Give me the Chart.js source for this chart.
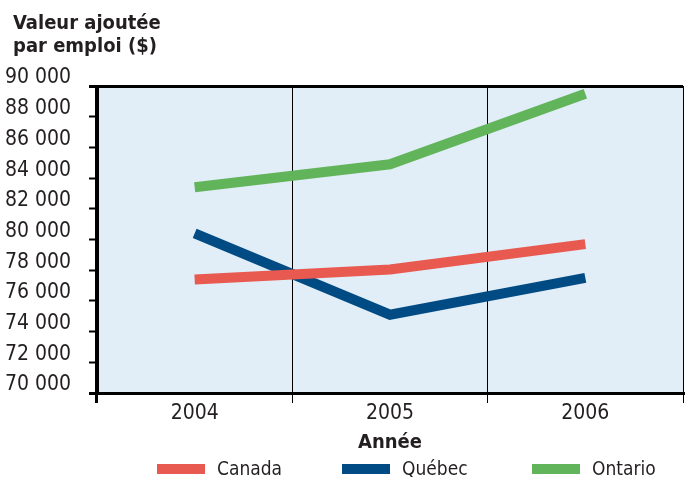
<!DOCTYPE html>
<html lang="fr">
<head>
<meta charset="utf-8">
<script src="https://cdn.jsdelivr.net/npm/chart.js@4/dist/chart.umd.min.js"></script>
<style>
  html, body { margin: 0; padding: 0; background: #ffffff; }
  #wrap { position: relative; width: 686px; height: 477px; }
  #c { display: block; }
  .lg-item { position: absolute; top: 456px; height: 24px; display: flex; align-items: center;
    font-family: "DejaVu Sans Condensed", "Liberation Sans", sans-serif; font-size: 19px; color: #231f20; white-space: nowrap; }
  .lg-box { display: inline-block; width: 48px; height: 10px; margin-right: 12px; margin-top: 2px; }
</style>
</head>
<body>
<div id="wrap">
  <canvas id="c" width="686" height="477"></canvas>
  <div id="legend"></div>
</div>
<script>
// ---- data ----
const years = ['2004', '2005', '2006'];
const canada = [77400, 78050, 79700];
const quebec = [80400, 75100, 77500];
const ontario = [83400, 84900, 89500];
const seriesNames = ['Canada', 'Québec', 'Ontario'];
const yTitleLines = ['Valeur ajoutée', 'par emploi ($)'];
const xTitle = 'Année';
const yMin = 70000, yMax = 90000, yStep = 2000;

// ---- style ----
const colors = ['#e8594f', '#004b84', '#62b45a'];
const legendLeft = [157, 342, 532];
const FONT = '"DejaVu Sans Condensed", "Liberation Sans", sans-serif';
const TEXT = '#231f20';
const TITLE_INDENT = 13;

const fmt = v => String(v).replace(/\B(?=(\d{3})+(?!\d))/g, ' ');

const bgPlugin = {
  id: 'plotBg',
  afterLayout(chart) {
    if (chart.titleBlock) {
      chart.titleBlock.left = TITLE_INDENT;
    }
  },
  beforeDraw(chart) {
    const a = chart.chartArea, ctx = chart.ctx;
    ctx.save();
    ctx.fillStyle = '#e1edf7';
    ctx.fillRect(a.left, a.top, a.right - a.left, a.bottom - a.top);
    ctx.restore();
  }
};

const seriesData = [canada, quebec, ontario];
const chart = new Chart(document.getElementById('c'), {
  type: 'line',
  data: {
    labels: years,
    datasets: seriesNames.map((n, i) => ({
      label: n,
      data: seriesData[i],
      borderColor: colors[i],
      backgroundColor: colors[i],
      borderWidth: 10,
      borderCapStyle: 'butt',
      borderJoinStyle: 'miter',
      pointRadius: 0,
      tension: 0,
      fill: false
    }))
  },
  options: {
    responsive: false,
    animation: false,
    devicePixelRatio: 1,
    layout: { padding: { left: 0, right: 3, top: 0, bottom: 24.5 } },
    plugins: {
      legend: { display: false },
      tooltip: { enabled: false },
      title: {
        display: true,
        text: yTitleLines,
        align: 'start',
        color: TEXT,
        font: { family: FONT, size: 20, weight: 'bold', lineHeight: '23px' },
        padding: { top: 12.5, bottom: 27.5 }
      }
    },
    scales: {
      x: {
        type: 'category',
        offset: true,
        grid: {
          offset: true,
          color: '#000000',
          lineWidth: c => (c.index === 0 || c.index === years.length) ? 3 : 1,
          tickLength: 10,
          drawTicks: true
        },
        border: { display: true, color: '#000000', width: 3 },
        ticks: {
          color: TEXT,
          padding: 0,
          font: { family: FONT, size: 21, lineHeight: 1.0 }
        },
        title: {
          display: true,
          text: xTitle,
          color: TEXT,
          font: { family: FONT, size: 20, weight: 'bold', lineHeight: 1.0 },
          padding: { top: 8.5, bottom: 0 }
        }
      },
      y: {
        min: yMin,
        max: yMax,
        afterFit: s => { s.width = 97; },
        grid: {
          color: c => (c.tick && c.tick.value === yMax) ? '#000000' : 'rgba(0,0,0,0)',
          lineWidth: c => (c.tick && c.tick.value === yMax) ? 3 : 1,
          tickColor: '#000000',
          tickWidth: c => (c.tick && (c.tick.value === yMax || c.tick.value === yMin)) ? 3 : 2,
          tickLength: 8,
          drawTicks: true
        },
        border: { display: true, color: '#000000', width: 3 },
        ticks: {
          stepSize: yStep,
          color: TEXT,
          padding: 18,
          labelOffset: -8,
          font: { family: FONT, size: 21, lineHeight: 1.0 },
          callback: v => fmt(v)
        }
      }
    }
  },
  plugins: [bgPlugin]
});

// HTML legend built from the chart's datasets
const lg = document.getElementById('legend');
chart.data.datasets.forEach((ds, i) => {
  const item = document.createElement('div');
  item.className = 'lg-item';
  item.style.left = legendLeft[i] + 'px';
  const box = document.createElement('span');
  box.className = 'lg-box';
  box.style.background = ds.borderColor;
  const txt = document.createElement('span');
  txt.textContent = ds.label;
  item.appendChild(box);
  item.appendChild(txt);
  lg.appendChild(item);
});
</script>
</body>
</html>
